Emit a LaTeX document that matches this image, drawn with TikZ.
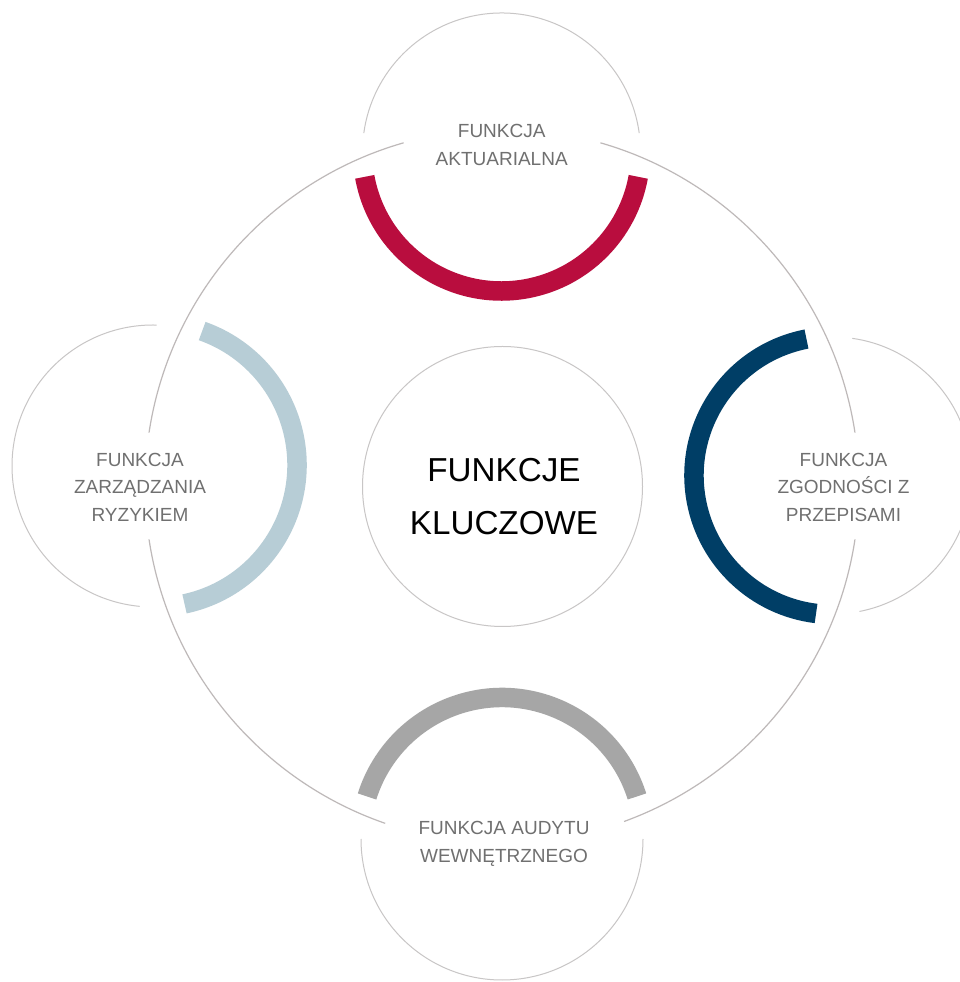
\documentclass[tikz,border=0pt]{standalone}
\usepackage{fontspec}
\setmainfont{Liberation Sans}
\definecolor{fred}{RGB}{185,13,62}
\definecolor{fnavy}{RGB}{0,62,102}
\definecolor{flight}{RGB}{183,205,214}
\definecolor{fgray}{RGB}{166,166,166}
\definecolor{ringgray}{RGB}{190,185,185}
\definecolor{ringgray2}{RGB}{200,198,198}
\definecolor{labgray}{RGB}{112,112,112}
\begin{document}
\begin{tikzpicture}[x=1pt,y=1pt,
  bigring/.style={draw=ringgray, line width=1.2pt},
  smallring/.style={draw=ringgray2, line width=1pt},
  band/.style={line width=19.5pt, line cap=butt},
  lab/.style={text=labgray, align=center, font=\fontsize{19}{27.8}\selectfont, anchor=base, inner sep=0pt},
  mainlab/.style={text=black, align=center, font=\fontsize{33.2}{53}\selectfont, anchor=base, inner sep=0pt}]
\useasboundingbox (0,0) rectangle (959,982);
\fill[white] (0,0) rectangle (959,982);
% centres
\coordinate (C) at (502,496);
\coordinate (T) at (501.5,830);
\coordinate (L) at (153,516);
\coordinate (Lb) at (155,517);
\coordinate (R) at (833,506.5);
\coordinate (B) at (502,143);
\coordinate (M) at (502.5,495.5);
% big ring with gaps
\draw[bigring] (C) ++(8.6:357) arc[start angle=8.6, end angle=74, radius=357];
\draw[bigring] (C) ++(106:357) arc[start angle=106, end angle=171.4, radius=357];
\draw[bigring] (C) ++(188.6:357) arc[start angle=188.6, end angle=250.9, radius=357];
\draw[bigring] (C) ++(290:357) arc[start angle=290, end angle=351.4, radius=357];
% centre circle
\node[circle, draw=ringgray2, line width=1pt, minimum size=280pt, inner sep=0pt] (core) at (M) {};
% top
\draw[smallring] (T) ++(7.8:139) arc[start angle=7.8, end angle=172.2, radius=139];
\draw[band, draw=fred] (T) ++(190.3:139) arc[start angle=190.3, end angle=349.7, radius=139];
% left
\draw[smallring] (L) ++(88.5:141) arc[start angle=88.5, end angle=264.6, radius=141];
\draw[band, draw=flight] (Lb) ++(-78:142) arc[start angle=-78, end angle=70.6, radius=142];
% right
\draw[smallring] (R) ++(-79:138.5) arc[start angle=-79, end angle=82, radius=138.5];
\draw[band, draw=fnavy] (R) ++(101:139) arc[start angle=101, end angle=263, radius=139];
% bottom
\draw[smallring] (B) ++(180:141) arc[start angle=180, end angle=360, radius=141];
\draw[band, draw=fgray] (B) ++(17.5:141.5) arc[start angle=17.5, end angle=162.5, radius=141.5];
% labels (anchor = baseline of the last line)
\node[mainlab] (main) at (504,447.7) {FUNKCJE\\KLUCZOWE};
\node[lab] (act) at (501.7,816.3) {FUNKCJA\\AKTUARIALNA};
\node[lab] (risk) at (140,460.3) {FUNKCJA\\ZARZĄDZANIA\\RYZYKIEM};
\node[lab] (comp) at (843.5,460.3) {FUNKCJA\\ZGODNOŚCI Z\\PRZEPISAMI};
\node[lab] (audit) at (504,119.3) {FUNKCJA AUDYTU\\WEWNĘTRZNEGO};
\end{tikzpicture}
\end{document}
